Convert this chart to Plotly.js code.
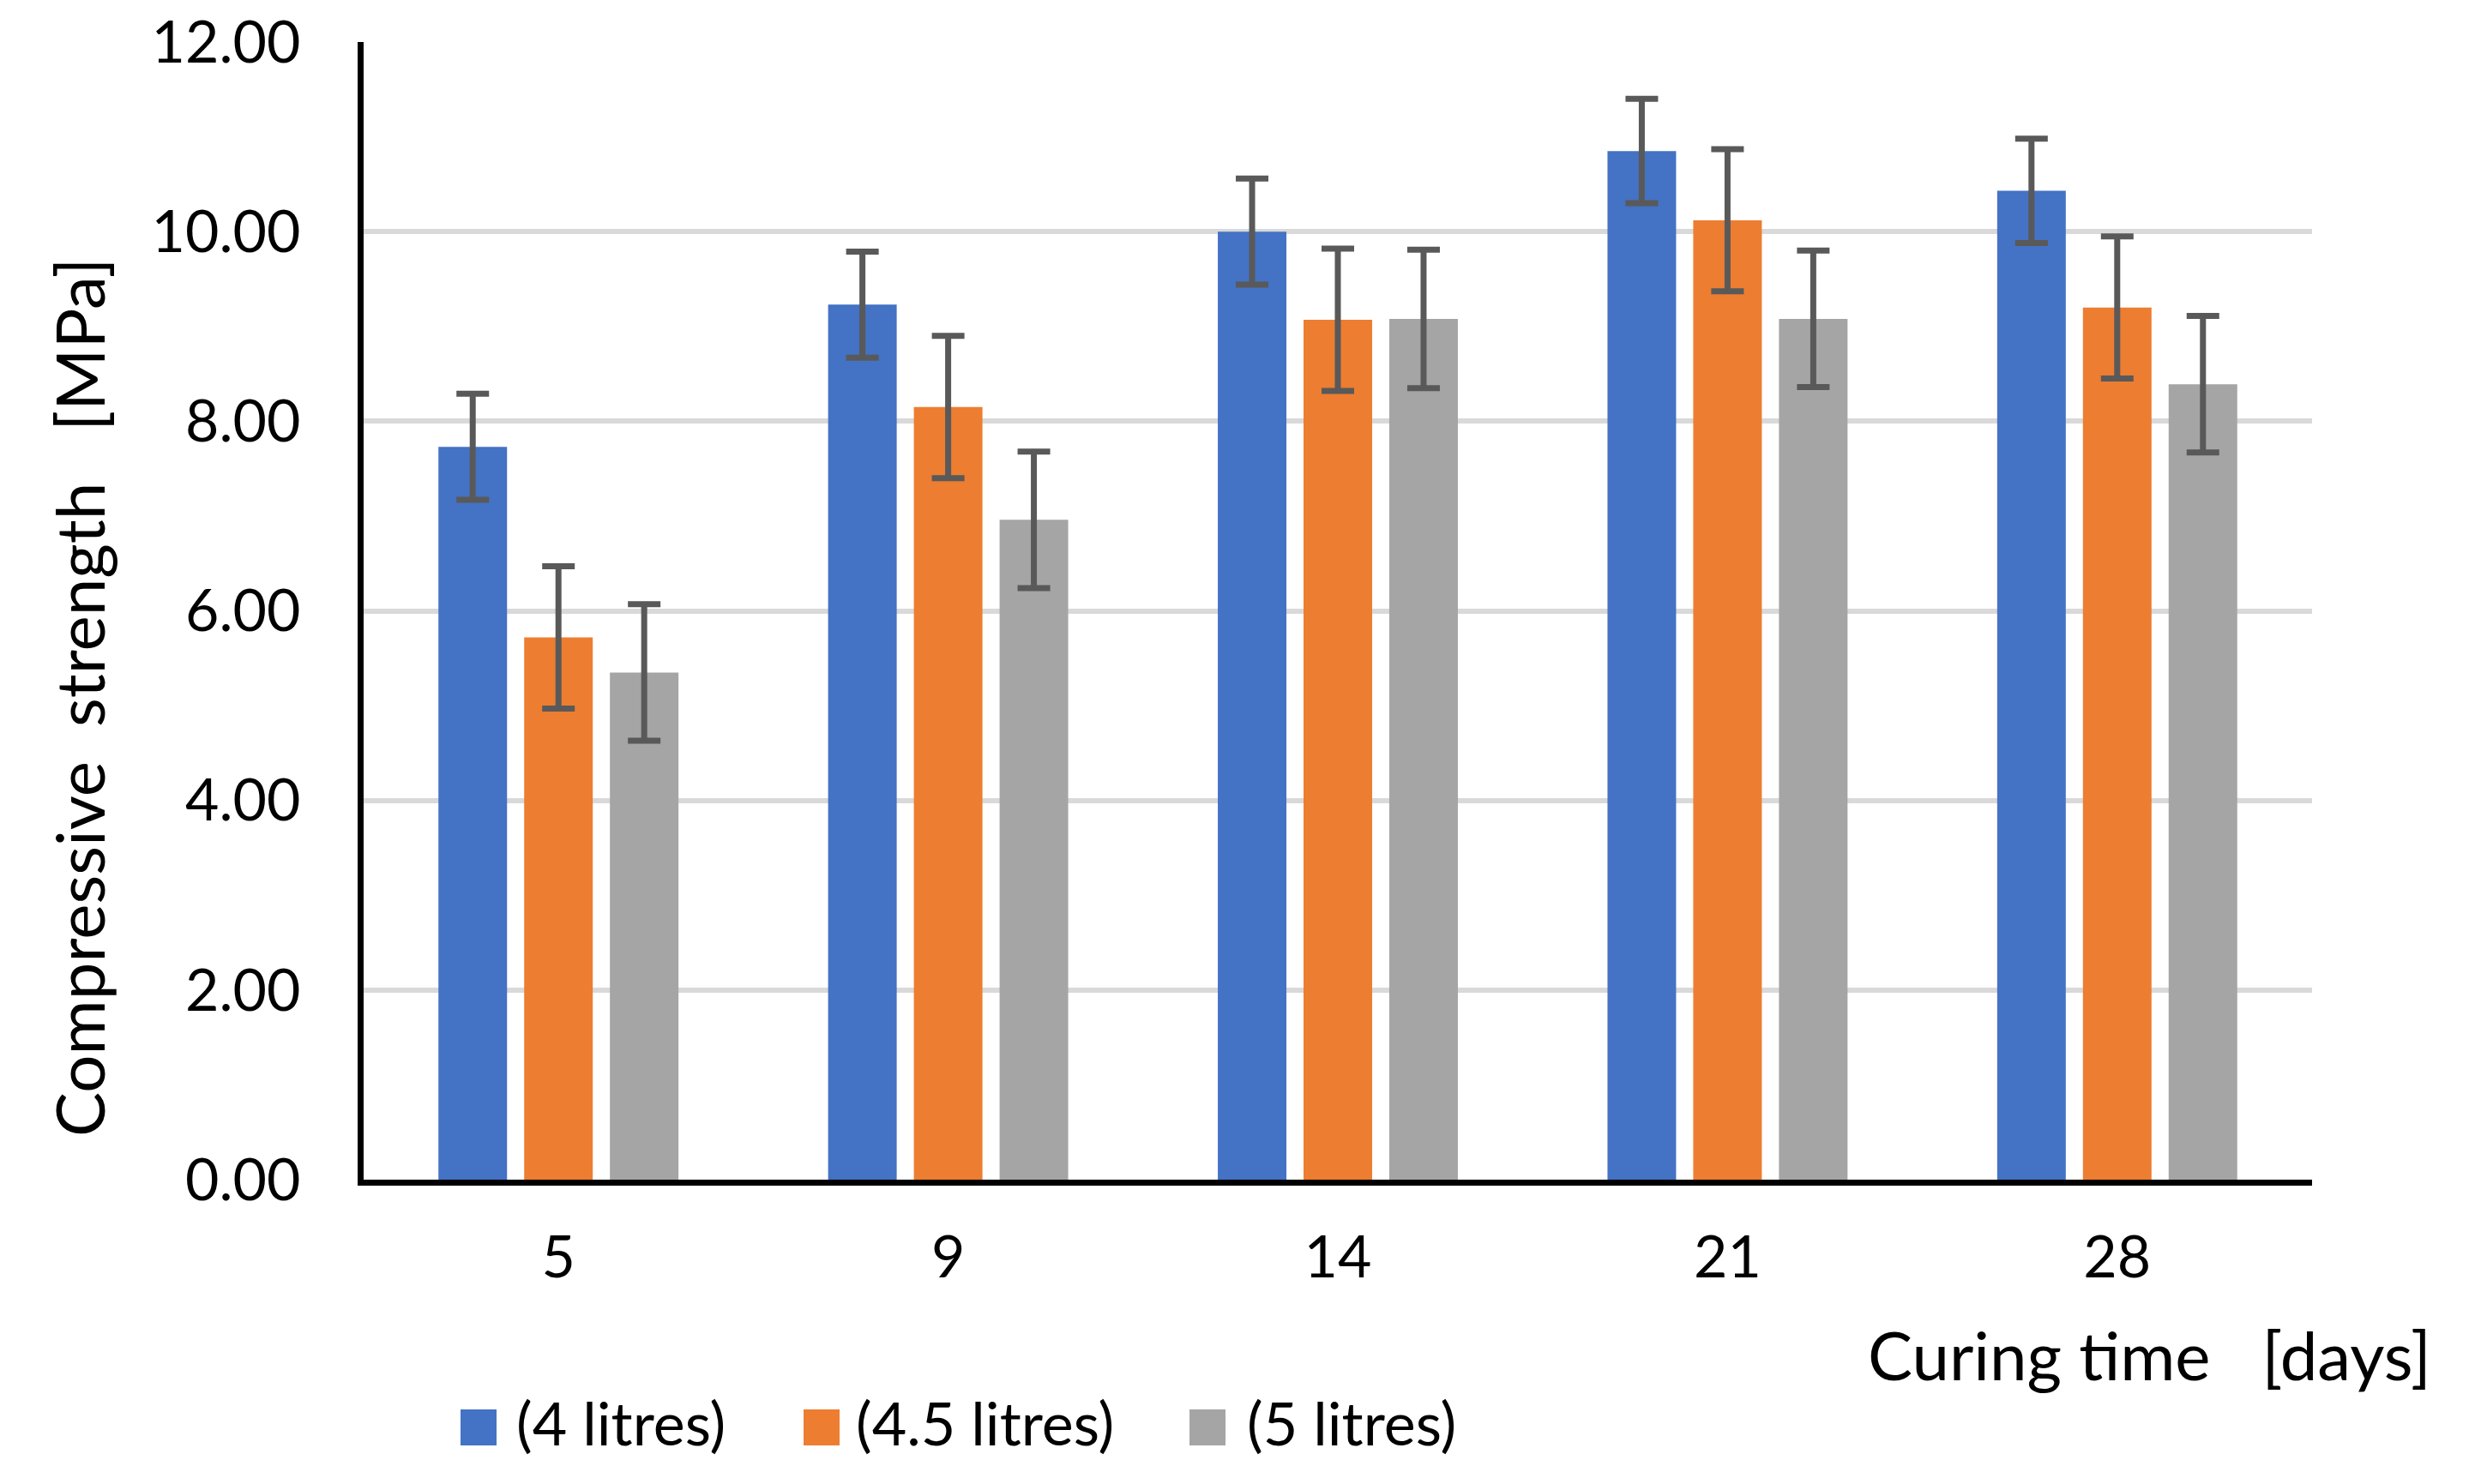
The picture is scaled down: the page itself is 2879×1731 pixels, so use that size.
<!DOCTYPE html>
<html>
<head>
<meta charset="utf-8">
<script src="https://cdn.plot.ly/plotly-3.0.1.min.js"></script>
<style>html,body{margin:0;padding:0;background:#fff;}#chart{width:2879px;height:1731px;}</style>
</head>
<body>
<div id="chart"></div>
<script>
// ---- data ----
const categories = ['5', '9', '14', '21', '28'];
const seriesNames = ['(4 litres)', '(4.5 litres)', '(5 litres)'];
const values4 = [7.73, 9.23, 10.00, 10.85, 10.43];
const values45 = [5.72, 8.15, 9.07, 10.12, 9.20];
const values5 = [5.35, 6.96, 9.08, 9.08, 8.39];
const err4 = [0.56, 0.56, 0.56, 0.55, 0.55];
const err45 = [0.75, 0.75, 0.75, 0.75, 0.75];
const err5 = [0.72, 0.72, 0.73, 0.72, 0.72];
const yTicks = [0, 2, 4, 6, 8, 10, 12];
const yTickLabels = ['0.00', '2.00', '4.00', '6.00', '8.00', '10.00', '12.00'];
const xTitle = 'Curing time\u00a0\u00a0\u00a0[days]';
const yTitle = 'Compressive\u00a0\u00a0strength\u00a0\u00a0\u00a0[MPa]';

// ---- styling ----
const colors = ['#4472C4', '#ED7D31', '#A5A5A5'];
const W = 2879, H = 1731;
const M = {l: 424, r: 183, t: 49, b: 355};
const FONT = 'Lato, Carlito, "Open Sans", sans-serif';
const pw = W - M.l - M.r, ph = H - M.t - M.b;
const px2x = p => (p - M.l) / pw;
const py2y = p => (H - M.b - p) / ph;

const allVals = [values4, values45, values5];
const allErr = [err4, err45, err5];
const traces = allVals.map((v, i) => ({
  type: 'bar',
  name: seriesNames[i],
  x: categories,
  y: v,
  marker: {color: colors[i], line: {width: 0}},
  error_y: {type: 'data', array: allErr[i], visible: true, color: '#595959', thickness: 7, width: 19},
  showlegend: false
}));

// custom legend (squares + labels)
const legendSquares = [537, 937, 1387];
const legendText = [600, 996, 1452];
const legY = 1665, sq = 42;
const shapes = [];
const annotations = [];
seriesNames.forEach((n, i) => {
  shapes.push({type: 'rect', xref: 'paper', yref: 'paper',
    x0: px2x(legendSquares[i]), x1: px2x(legendSquares[i] + sq),
    y0: py2y(legY + sq / 2), y1: py2y(legY - sq / 2),
    fillcolor: colors[i], line: {width: 0}});
  annotations.push({xref: 'paper', yref: 'paper', x: px2x(legendText[i]), y: py2y(legY - 6),
    xanchor: 'left', yanchor: 'middle', showarrow: false, text: n,
    font: {family: FONT, size: 70, color: '#000'}});
});
annotations.push({xref: 'paper', yref: 'paper', x: px2x(2837), y: py2y(1580),
  xanchor: 'right', yanchor: 'middle', showarrow: false, text: xTitle,
  font: {family: FONT, size: 78, color: '#000'}});
annotations.push({xref: 'paper', yref: 'paper', x: px2x(92), y: py2y(814),
  xanchor: 'center', yanchor: 'middle', showarrow: false, textangle: -90, text: yTitle,
  font: {family: FONT, size: 78, color: '#000'}});

const layout = {
  width: W, height: H,
  margin: M,
  paper_bgcolor: '#fff', plot_bgcolor: '#fff',
  font: {family: FONT, size: 68, color: '#000'},
  barmode: 'group', bargap: 0.34, bargroupgap: 0.2,
  showlegend: false,
  xaxis: {
    type: 'category', showgrid: false, zeroline: false,
    showline: true, linecolor: '#000', linewidth: 7,
    ticks: '', ticklabelstandoff: 25,
    tickfont: {family: FONT, size: 68, color: '#000'}
  },
  yaxis: {
    range: [0, 12], tickvals: yTicks, ticktext: yTickLabels,
    showgrid: true, gridcolor: '#D9D9D9', gridwidth: 6,
    zeroline: false, showline: true, linecolor: '#000', linewidth: 7,
    ticks: '', ticklabelstandoff: 53,
    tickfont: {family: FONT, size: 68, color: '#000'}
  },
  shapes: shapes,
  annotations: annotations
};

Plotly.newPlot('chart', traces, layout, {displayModeBar: false, staticPlot: true});
</script>
</body>
</html>
